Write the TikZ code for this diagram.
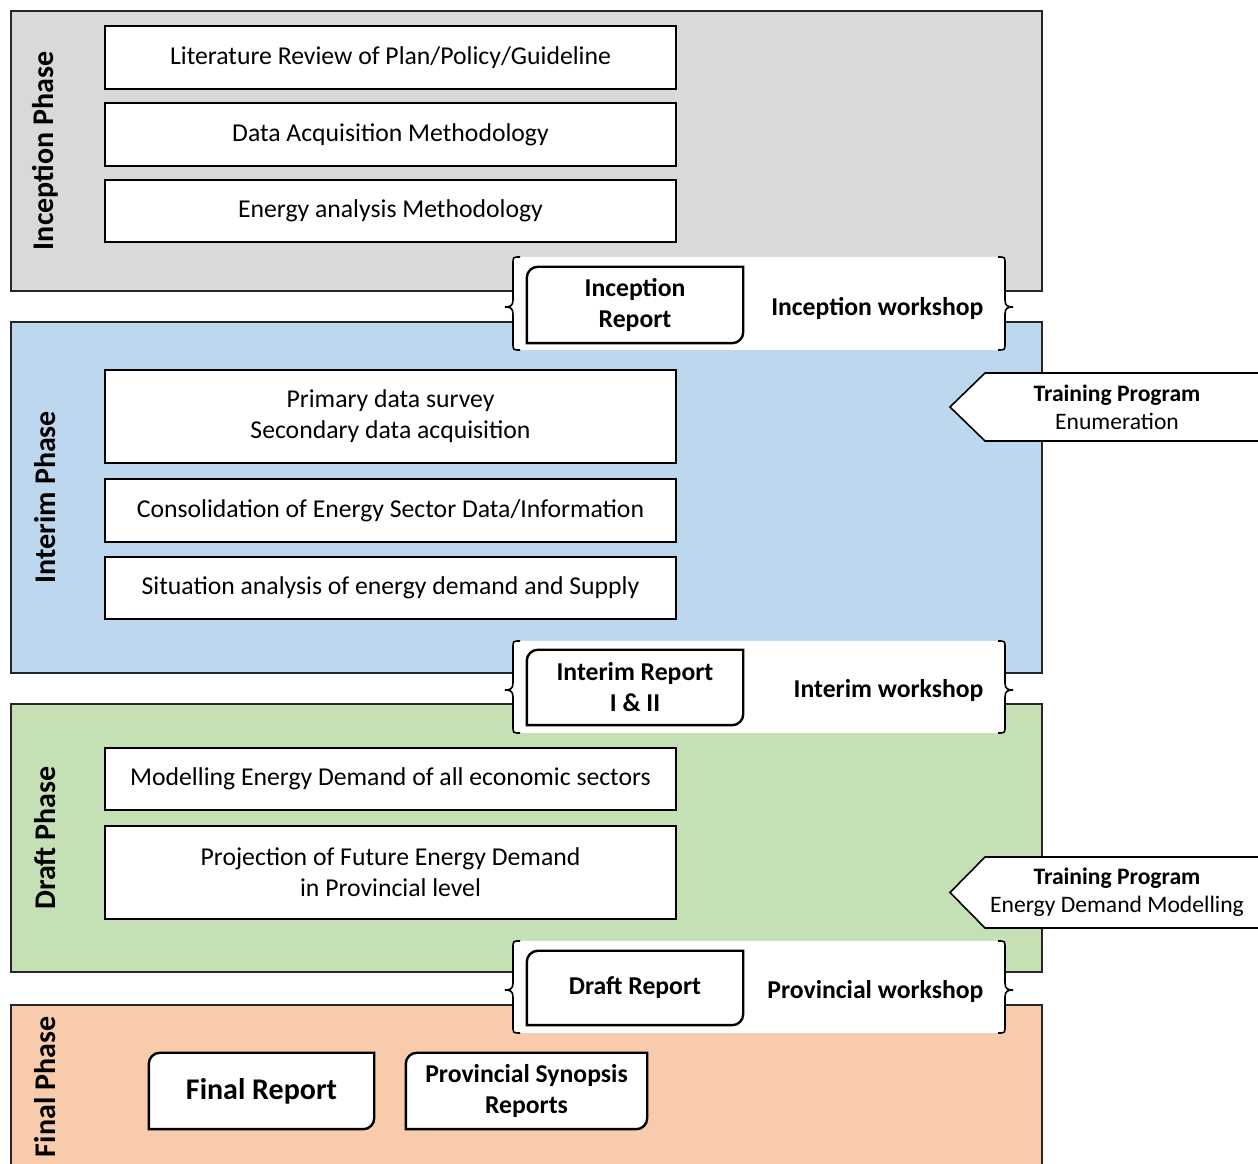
\documentclass[tikz,border=0pt]{standalone}
\usepackage{fontspec}
\setmainfont{Carlito}
\definecolor{incep}{HTML}{D9D9D9}
\definecolor{inter}{HTML}{BDD7EE}
\definecolor{draftc}{HTML}{C5E0B4}
\definecolor{finalc}{HTML}{F8CBAD}
\newcommand\fs[1]{\fontsize{#1}{31}\selectfont}
% workshop band: white fill with brace-shaped sides
% #1 left, #2 right, #3 top, #4 bottom, #5 tip height
\newcommand\wshop[5]{%
  \fill[white] (#1+7,#3) -- (#2-7,#3) .. controls (#2,#3) .. (#2,#3-7) -- (#2,#5+7)
    .. controls (#2,#5+1) and (#2+3,#5) .. (#2+8,#5) .. controls (#2+3,#5) and (#2,#5-1) .. (#2,#5-7)
    -- (#2,#4+7) .. controls (#2,#4) .. (#2-7,#4) -- (#1+7,#4) .. controls (#1,#4) .. (#1,#4+7)
    -- (#1,#5-7) .. controls (#1,#5-1) and (#1-3,#5) .. (#1-8,#5) .. controls (#1-3,#5) and (#1,#5+1) .. (#1,#5+7)
    -- (#1,#3-7) .. controls (#1,#3) .. cycle;
  \draw[brace] (#1+7,#3) .. controls (#1,#3) .. (#1,#3-7) -- (#1,#5+7)
    .. controls (#1,#5+1) and (#1-3,#5) .. (#1-8,#5) .. controls (#1-3,#5) and (#1,#5-1) .. (#1,#5-7)
    -- (#1,#4+7) .. controls (#1,#4) .. (#1+7,#4);
  \draw[brace] (#2-7,#3) .. controls (#2,#3) .. (#2,#3-7) -- (#2,#5+7)
    .. controls (#2,#5+1) and (#2+3,#5) .. (#2+8,#5) .. controls (#2+3,#5) and (#2,#5-1) .. (#2,#5-7)
    -- (#2,#4+7) .. controls (#2,#4) .. (#2-7,#4);
}
% report box: rounded top-left and bottom-right corners
\newcommand\rptbox[1]{%
  \draw[rline] (#1.south west) -- ([yshift=-11pt]#1.north west)
    arc[start angle=180,end angle=90,radius=11pt] -- (#1.north east)
    -- ([yshift=11pt]#1.south east) arc[start angle=0,end angle=-90,radius=11pt] -- cycle;
}
\begin{document}
\begin{tikzpicture}[x=1pt,y=1pt,
  phase/.style={line width=1.6pt, draw=black!85},
  task/.style={draw, line width=1.6pt, fill=white, minimum width=571pt, inner sep=0pt, align=center, font=\fs{25.7}},
  plabel/.style={rotate=90, font=\fs{30}\bfseries},
  report/.style={minimum width=216pt, inner sep=0pt, align=center, font=\fs{25.7}\bfseries},
  rline/.style={line width=2.4pt, fill=white},
  brace/.style={line width=1.6pt},
  wtext/.style={anchor=east, font=\fs{25.7}\bfseries},
  tline/.style={line width=1.6pt, fill=white},
  ttext/.style={align=center, font=\fontsize{23.6}{28}\selectfont}
]
\clip (0,0) rectangle (1258,1164);

% phase bands
\filldraw[phase, fill=incep] (11,873) rectangle (1042,1153);
\filldraw[phase, fill=inter] (11,491) rectangle (1042,842);
\filldraw[phase, fill=draftc] (11,192) rectangle (1042,460);
\fill[finalc] (11,-10) rectangle (1042,159);
\draw[phase] (11,-10) -- (11,159) -- (1042,159) -- (1042,-10);

\node[plabel] (lincep) at (45,1013) {Inception Phase};
\node[plabel] (linter) at (45,667) {Interim Phase};
\node[plabel] (ldraft) at (45,326) {Draft Phase};
\node[plabel] (lfinal) at (45,77) {Final Phase};

% tasks
\node[task, minimum height=63pt] (t1) at (390.5,1106.5) {Literature Review of Plan/Policy/Guideline};
\node[task, minimum height=63pt] (t2) at (390.5,1029.5) {Data Acquisition Methodology};
\node[task, minimum height=62pt] (t3) at (390.5,953) {Energy analysis Methodology};
\node[task, minimum height=93pt] (t4) at (390.5,747.5) {Primary data survey\\Secondary data acquisition};
\node[task, minimum height=63pt] (t5) at (390.5,653.5) {Consolidation of Energy Sector Data/Information};
\node[task, minimum height=62pt] (t6) at (390.5,576) {Situation analysis of energy demand and Supply};
\node[task, minimum height=62pt] (t7) at (390.5,385) {Modelling Energy Demand of all economic sectors};
\node[task, minimum height=93pt] (t8) at (390.5,291.5) {Projection of Future Energy Demand\\in Provincial level};

% workshops
\wshop{513}{1005}{907}{814}{857}
\wshop{513}{1005}{523}{431}{474}
\wshop{513}{1005}{223}{131}{174}

\node[report, minimum height=76pt] (r1) at (635,859) {};
\rptbox{r1}
\node[report] at (r1) {Inception\\Report};
\node[report, minimum height=75pt] (r2) at (635,476.5) {};
\rptbox{r2}
\node[report] at (r2) {Interim Report\\I \& II};
\node[report, minimum height=74pt] (r3) at (635,176) {};
\rptbox{r3}
\node[report] at (r3) {Draft Report};

\node[wtext] (w1) at (987,856) {Inception workshop};
\node[wtext] (w2) at (987,473) {Interim workshop};
\node[wtext] (w3) at (987,172) {Provincial workshop};

% training programmes
\draw[tline] (1270,791) -- (985,791) -- (950,757) -- (985,723) -- (1270,723);
\node[ttext] (tp1) at (1117,757) {\textbf{Training Program}\\Enumeration};
\draw[tline] (1270,307) -- (985,307) -- (950,271.5) -- (985,236) -- (1270,236);
\node[ttext] (tp2) at (1117,271.5) {\textbf{Training Program}\\Energy Demand Modelling};

% final deliverables
\node[report, minimum width=225pt, minimum height=76pt] (f1) at (261.5,73) {};
\rptbox{f1}
\node[report, font=\fs{30}\bfseries] at (f1) {Final Report};
\node[report, minimum width=241pt, minimum height=76pt] (f2) at (526.5,73) {};
\rptbox{f2}
\node[report] at (f2) {Provincial Synopsis\\Reports};
\end{tikzpicture}
\end{document}
